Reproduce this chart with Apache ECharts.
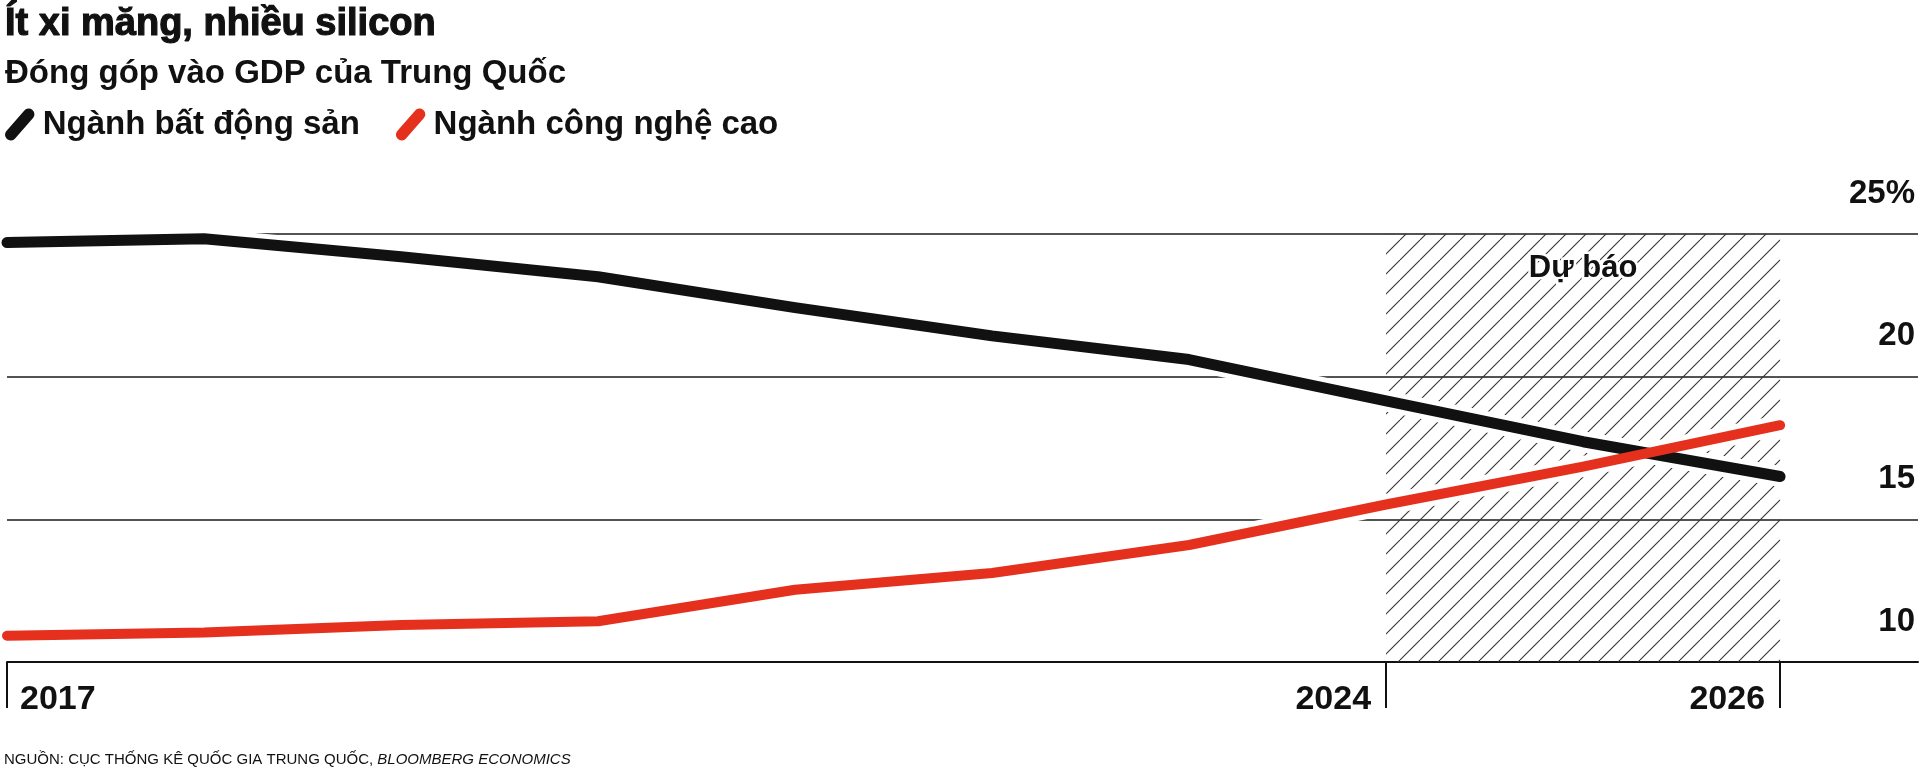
<!DOCTYPE html>
<html>
<head>
<meta charset="utf-8">
<title>Ít xi măng, nhiều silicon</title>
<script src="https://cdn.jsdelivr.net/npm/echarts@6/dist/echarts.min.js"></script>
<style>
  html, body { margin: 0; padding: 0; background: #fff; }
  #chart { width: 1920px; height: 768px; }
</style>
</head>
<body>
<div id="chart"></div>
<script>
// values, share of China's GDP (%)
const years = [2017, 2018, 2019, 2020, 2021, 2022, 2023, 2024, 2025, 2026];
const realEstate = [24.7, 24.83, 24.2, 23.5, 22.42, 21.43, 20.6, 19.15, 17.72, 16.5];
const highTech = [10.92, 11.03, 11.3, 11.43, 12.53, 13.12, 14.1, 15.52, 16.85, 18.3];
const forecastYears = [2024, 2026];
const yTicks = [10, 15, 20, 25];
const tickYears = [2017, 2024, 2026];
const firstYearLabel = [2017];
const lastYearLabels = [2024, 2026];

const chartTitle = 'Ít xi măng, nhiều silicon';
const chartSubtitle = 'Đóng góp vào GDP của Trung Quốc';
const nameRealEstate = 'Ngành bất động sản';
const nameHighTech = 'Ngành công nghệ cao';
const forecastLabel = 'Dự báo';

const FONT = '"Liberation Sans", Arial, sans-serif';
const INK = '#111';
const RED = '#e5301e';

// diagonal hatching for the forecast block
function makeHatch() {
  const c = document.createElement('canvas');
  c.width = 20;
  c.height = 20;
  const ctx = c.getContext('2d');
  ctx.strokeStyle = '#333';
  ctx.lineWidth = 1.1;
  for (let k = -20; k <= 20; k += 20) {
    ctx.beginPath();
    ctx.moveTo(k, 20);
    ctx.lineTo(k + 20, 0);
    ctx.stroke();
  }
  return c;
}

const pill = 'path://M8.387,23.963 L22.387,7.963 A4.5,4.5 0 0,0 15.613,2.037 L1.613,18.037 A4.5,4.5 0 0,0 8.387,23.963 Z';

const pairs = (vals) => years.map((y, i) => [y, vals[i]]);

const yearLabel = {
  margin: 21,
  fontFamily: FONT, fontSize: 34, fontWeight: 'bold', color: INK,
  formatter: (v) => String(v)
};

const chart = echarts.init(document.getElementById('chart'));

const option = {
  animation: false,
  backgroundColor: '#fff',
  title: [
    {
      text: chartTitle,
      left: 5, top: 6, padding: 0,
      textStyle: {
        fontFamily: FONT, fontSize: 38, fontWeight: 'bold', color: INK,
        textBorderColor: INK, textBorderWidth: 1.2
      }
    },
    {
      text: chartSubtitle,
      left: 5, top: 57, padding: 0,
      textStyle: { fontFamily: FONT, fontSize: 33, fontWeight: 'bold', color: INK }
    },
    {
      text: '{n|NGUỒN: CỤC THỐNG KÊ QUỐC GIA TRUNG QUỐC, }{i|BLOOMBERG ECONOMICS}',
      left: 4, top: 752, padding: 0,
      textStyle: {
        rich: {
          n: { fontFamily: FONT, fontSize: 15, fontWeight: 'normal', color: INK },
          i: { fontFamily: FONT, fontSize: 15, fontWeight: 'normal', color: INK, fontStyle: 'italic' }
        }
      }
    }
  ],
  legend: {
    data: [nameRealEstate, nameHighTech],
    left: 5, top: 108, padding: 0,
    icon: pill,
    itemWidth: 30, itemHeight: 32,
    itemGap: 36,
    selectedMode: false,
    textStyle: { fontFamily: FONT, fontSize: 33, fontWeight: 'bold', color: INK, padding: [0, 0, 0, 3] }
  },
  grid: { left: 7, right: 2, top: 234, bottom: 106 },
  xAxis: [
    {
      type: 'value', position: 'bottom',
      min: 2017, max: 2026.7,
      splitLine: { show: false },
      axisLine: { show: true, lineStyle: { color: INK, width: 2 } },
      axisTick: { show: true, customValues: tickYears, length: 46, lineStyle: { color: INK, width: 2 } },
      axisLabel: Object.assign({ customValues: firstYearLabel, align: 'left', padding: [0, 0, 0, 13] }, yearLabel)
    },
    {
      type: 'value', position: 'bottom',
      min: 2017, max: 2026.7,
      splitLine: { show: false },
      axisLine: { show: false },
      axisTick: { show: false },
      axisLabel: Object.assign({ customValues: lastYearLabels, align: 'right', padding: [0, 15, 0, 0] }, yearLabel)
    }
  ],
  yAxis: {
    type: 'value',
    position: 'right',
    min: yTicks[0], max: yTicks[yTicks.length - 1], interval: 5,
    axisLine: { show: false },
    axisTick: { show: false },
    splitLine: { show: true, lineStyle: { color: '#1a1a1a', width: 1.6 } },
    axisLabel: {
      inside: true, margin: 3,
      verticalAlign: 'bottom', padding: [0, 0, 24, 0],
      fontFamily: FONT, fontSize: 33, fontWeight: 'bold', color: INK,
      formatter: (v) => (v === yTicks[yTicks.length - 1] ? v + '%' : String(v))
    }
  },
  series: [
    {
      name: 'forecast',
      type: 'line',
      data: [],
      silent: true,
      z: 1,
      markArea: {
        silent: true,
        itemStyle: { color: { image: makeHatch(), repeat: 'repeat' } },
        label: {
          show: true, position: 'insideTop', distance: 19,
          fontFamily: FONT, fontSize: 31, fontWeight: 'bold', color: INK,
          textBorderColor: '#fff', textBorderWidth: 5
        },
        data: [[
          { name: forecastLabel, xAxis: forecastYears[0], yAxis: yTicks[0] },
          { xAxis: forecastYears[1], yAxis: yTicks[yTicks.length - 1] }
        ]]
      }
    },
    {
      name: 'halo1', type: 'line', data: pairs(realEstate), silent: true, z: 2,
      symbol: 'none', lineStyle: { color: '#fff', width: 21, cap: 'round', join: 'round' }
    },
    {
      name: 'halo2', type: 'line', data: pairs(highTech), silent: true, z: 2,
      symbol: 'none', lineStyle: { color: '#fff', width: 21, cap: 'round', join: 'round' }
    },
    {
      name: nameRealEstate, type: 'line', data: pairs(realEstate), z: 3,
      symbol: 'none',
      itemStyle: { color: INK },
      lineStyle: { color: INK, width: 11, cap: 'round', join: 'round' }
    },
    {
      name: nameHighTech, type: 'line', data: pairs(highTech), z: 4,
      symbol: 'none',
      itemStyle: { color: RED },
      lineStyle: { color: RED, width: 10, cap: 'round', join: 'round' }
    }
  ]
};

chart.setOption(option);
</script>
</body>
</html>
